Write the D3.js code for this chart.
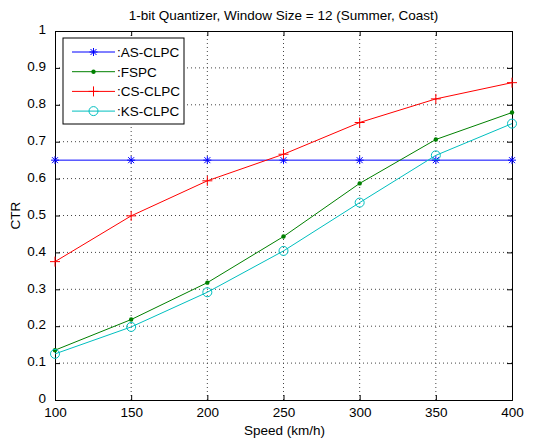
<!DOCTYPE html>
<html>
<head>
<meta charset="utf-8">
<script src="https://cdn.jsdelivr.net/npm/d3@7"></script>
<style>
  body { margin: 0; background: #fff; }
  text { font-family: "Liberation Sans", Arial, sans-serif; }
</style>
</head>
<body>
<div id="chart"></div>
<script>
var speeds = [100, 150, 200, 250, 300, 350, 400];
var asClpc = [0.65, 0.65, 0.65, 0.65, 0.65, 0.65, 0.65];
var fspc = [0.135, 0.218, 0.318, 0.443, 0.587, 0.706, 0.779];
var csClpc = [0.375, 0.499, 0.594, 0.666, 0.752, 0.816, 0.86];
var ksClpc = [0.125, 0.198, 0.292, 0.404, 0.535, 0.663, 0.749];
var seriesNames = [":AS-CLPC", ":FSPC", ":CS-CLPC", ":KS-CLPC"];
var yTicks = [0, 0.1, 0.2, 0.3, 0.4, 0.5, 0.6, 0.7, 0.8, 0.9, 1];

var svgWidth = 536, svgHeight = 443;
var margin = {top: 31, right: 24, bottom: 43, left: 55};
var width = svgWidth - margin.left - margin.right;
var height = svgHeight - margin.top - margin.bottom;
var fs = 13.5;

var svg = d3.select("#chart").append("svg")
  .attr("width", svgWidth)
  .attr("height", svgHeight);

var g = svg.append("g")
  .attr("transform", `translate(${margin.left}, ${margin.top})`);

var x = d3.scaleLinear().domain([100, 400]).range([0, width]);
var y = d3.scaleLinear().domain([0, 1]).range([height, 0]);

// dotted grid
g.selectAll(".vgrid").data(speeds.slice(1, -1)).enter().append("line")
  .attr("x1", d => x(d)).attr("x2", d => x(d))
  .attr("y1", 0).attr("y2", height)
  .attr("stroke", "#444").attr("stroke-width", 1).attr("stroke-dasharray", "1,3");
g.selectAll(".hgrid").data(yTicks.slice(1, -1)).enter().append("line")
  .attr("y1", d => y(d)).attr("y2", d => y(d))
  .attr("x1", 0).attr("x2", width)
  .attr("stroke", "#444").attr("stroke-width", 1).attr("stroke-dasharray", "1,3");

// axes with inward ticks
var xAxis = g.append("g").attr("transform", `translate(0, ${height})`)
  .call(d3.axisBottom(x).tickValues(speeds).tickSize(-5).tickPadding(7).tickFormat(d3.format("d")));
var xTop = g.append("g")
  .call(d3.axisTop(x).tickValues(speeds).tickSize(-5).tickFormat(""));
var yAxis = g.append("g")
  .call(d3.axisLeft(y).tickValues(yTicks).tickSize(-5).tickPadding(9).tickFormat(d => d3.format("")(+d.toFixed(1))));
var yRight = g.append("g").attr("transform", `translate(${width}, 0)`)
  .call(d3.axisRight(y).tickValues(yTicks).tickSize(-5).tickFormat(""));

[xAxis, xTop, yAxis, yRight].forEach(function(a) {
  a.select(".domain").attr("stroke", "#000");
  a.selectAll(".tick line").attr("stroke", "#000");
  a.selectAll("text").attr("font-size", fs).attr("fill", "#000")
    .style("font-family", "'Liberation Sans', Arial, sans-serif");
});
yAxis.selectAll("text").attr("dy", "0.2em");

var series = [
  {name: seriesNames[0], values: asClpc, color: "#0000ff", marker: "star"},
  {name: seriesNames[1], values: fspc, color: "#008000", marker: "dot"},
  {name: seriesNames[2], values: csClpc, color: "#ff0000", marker: "plus"},
  {name: seriesNames[3], values: ksClpc, color: "#00bfbf", marker: "circle"}
];

function drawMarker(sel, type, color) {
  if (type === "star") {
    sel.append("path").attr("d", "M-4,0H4M0,-4V4M-3,-3L3,3M-3,3L3,-3")
      .attr("stroke", color).attr("stroke-width", 1).attr("fill", "none");
  } else if (type === "dot") {
    sel.append("circle").attr("r", 2.2).attr("fill", color);
  } else if (type === "plus") {
    sel.append("path").attr("d", "M-5,0H5M0,-5V5")
      .attr("stroke", color).attr("stroke-width", 1).attr("fill", "none");
  } else {
    sel.append("circle").attr("r", 4.5).attr("fill", "none")
      .attr("stroke", color).attr("stroke-width", 1);
  }
}

var line = d3.line().x((d, i) => x(speeds[i])).y(d => y(d));

series.forEach(function(s) {
  g.append("path").datum(s.values)
    .attr("d", line)
    .attr("fill", "none")
    .attr("stroke", s.color)
    .attr("stroke-width", 1);
  s.values.forEach(function(v, i) {
    var m = g.append("g").attr("transform", `translate(${x(speeds[i])}, ${y(v)})`);
    drawMarker(m, s.marker, s.color);
  });
});

// legend
var legend = svg.append("g").attr("transform", "translate(63, 38)");
legend.append("rect")
  .attr("width", 121).attr("height", 86)
  .attr("fill", "#fff").attr("stroke", "#000").attr("stroke-width", 1);
series.forEach(function(s, i) {
  var row = legend.append("g").attr("transform", `translate(0, ${14 + i * 19.7})`);
  row.append("line").attr("x1", 9).attr("x2", 52).attr("y1", 0).attr("y2", 0)
    .attr("stroke", s.color).attr("stroke-width", 1);
  var m = row.append("g").attr("transform", "translate(30.5, 0)");
  drawMarker(m, s.marker, s.color);
  row.append("text").attr("x", 54).attr("y", 0).attr("dy", "0.36em")
    .attr("font-size", fs).attr("fill", "#000").text(s.name);
});

// title and axis labels
svg.append("text")
  .attr("x", margin.left + width / 2).attr("y", 20)
  .attr("text-anchor", "middle").attr("font-size", fs).attr("fill", "#000")
  .text("1-bit Quantizer, Window Size = 12 (Summer, Coast)");

svg.append("text")
  .attr("x", margin.left + width / 2 + 1).attr("y", 435)
  .attr("text-anchor", "middle").attr("font-size", fs).attr("fill", "#000")
  .text("Speed (km/h)");

svg.append("text")
  .attr("transform", `translate(20, ${margin.top + height / 2}) rotate(-90)`)
  .attr("text-anchor", "middle").attr("font-size", fs).attr("fill", "#000")
  .text("CTR");
</script>
</body>
</html>
